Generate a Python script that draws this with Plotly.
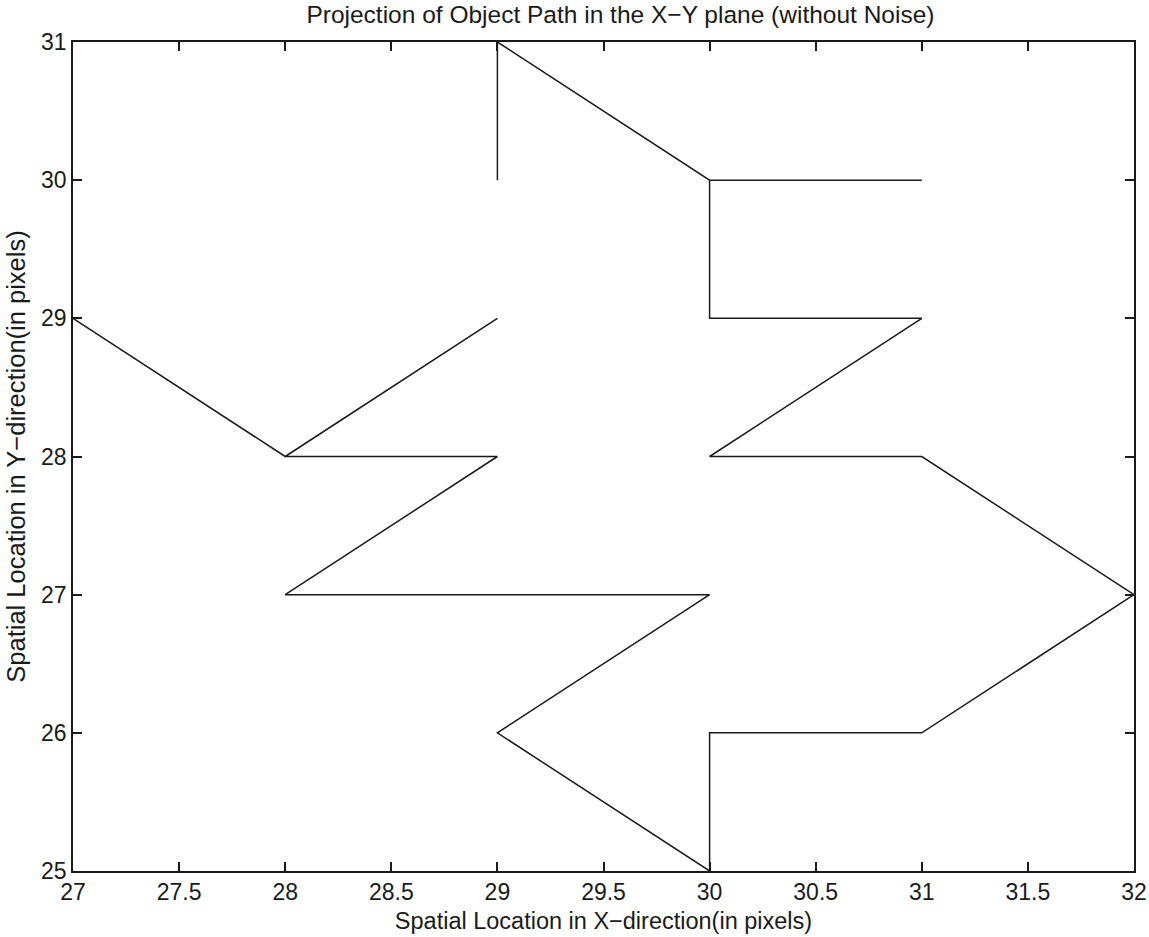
import plotly.graph_objects as go

# Object path vertices (x, y) in pixels
path_x = [29, 29, 30, 31, 30, 30, 31, 30, 31, 32, 31, 30, 30, 29, 30, 28, 29, 28, 29, 28, 27]
path_y = [30, 31, 30, 30, 30, 29, 29, 28, 28, 27, 26, 26, 25, 26, 27, 27, 28, 28, 29, 28, 29]

x_ticks = [27, 27.5, 28, 28.5, 29, 29.5, 30, 30.5, 31, 31.5, 32]
y_ticks = [25, 26, 27, 28, 29, 30, 31]

fig = go.Figure()
fig.add_trace(go.Scatter(x=path_x, y=path_y, mode="lines",
                         line=dict(color="#1a1a1a", width=1.5), showlegend=False))

font = "Liberation Sans, Arial, sans-serif"
ink = "#1a1a1a"
axis_common = dict(showgrid=False, zeroline=False, showline=True, linecolor=ink,
                   linewidth=1.5, mirror="ticks", ticks="inside", ticklen=9,
                   tickcolor=ink, tickwidth=1.5, automargin=False,
                   tickfont=dict(family=font, size=23, color=ink))

fig.update_layout(
    width=1149, height=937,
    paper_bgcolor="white", plot_bgcolor="white",
    margin=dict(l=73, r=15, t=42, b=66),
    title=dict(text="Projection of Object Path in the X\u2212Y plane (without Noise)",
               x=0.540, xanchor="center", xref="container",
               y=1 - 14 / 937, yanchor="middle", yref="container",
               font=dict(family=font, size=24.5, color=ink)),
    xaxis=dict(range=[27, 32], tickvals=x_ticks, ticktext=[f"{v:g}" for v in x_ticks],
               title=dict(text="Spatial Location in X\u2212direction(in pixels)",
                          font=dict(family=font, size=23.5, color=ink), standoff=8),
               **axis_common),
    yaxis=dict(range=[25, 31], tickvals=y_ticks, ticktext=[str(v) for v in y_ticks],
               title=dict(text="Spatial Location in Y\u2212direction(in pixels)",
                          font=dict(family=font, size=25.5, color=ink), standoff=8),
               **axis_common),
)

fig.write_html("out.html", config={"displayModeBar": False},
               post_script="document.body.style.margin='0';document.body.style.overflow='hidden';")
